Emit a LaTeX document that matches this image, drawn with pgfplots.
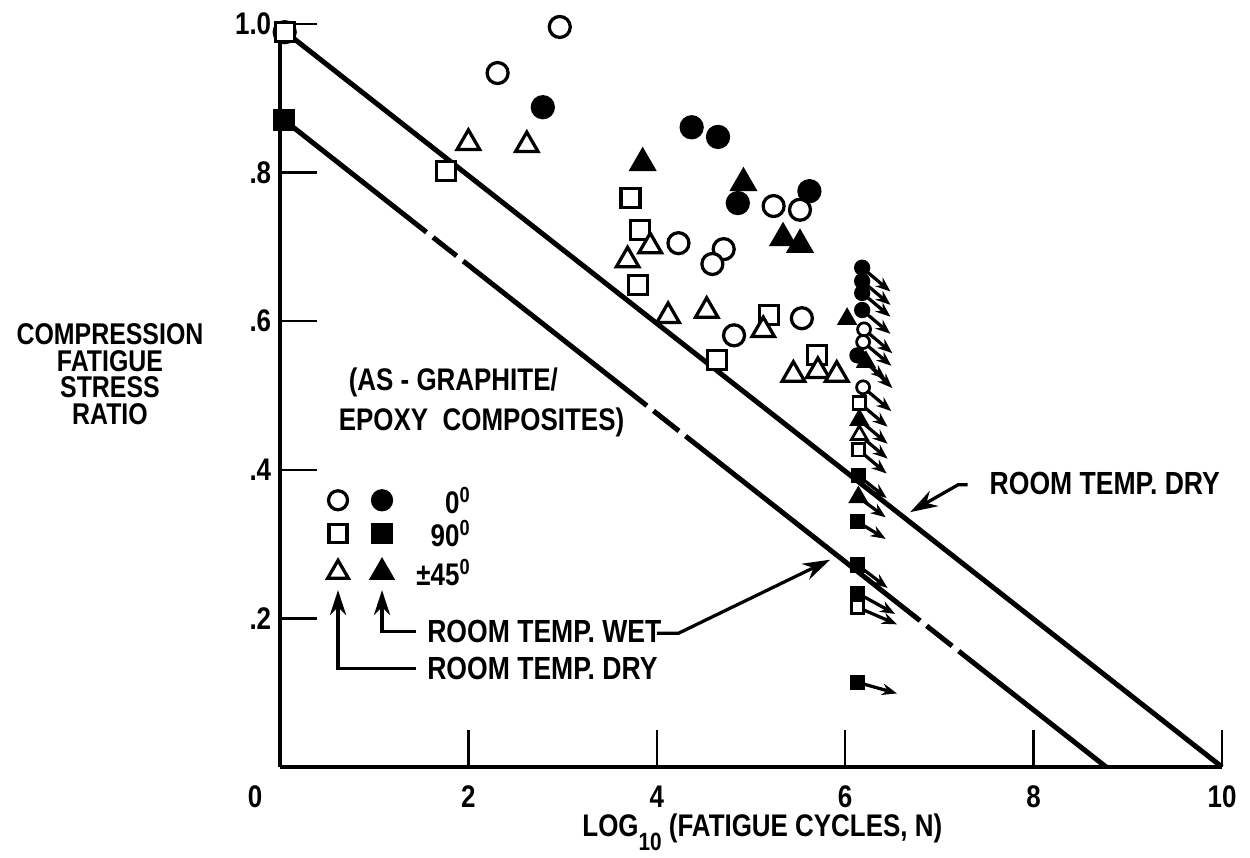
\documentclass[border=0pt]{standalone}
\usepackage{fontspec}
\setmainfont{Liberation Sans}[FakeStretch=0.83]
\usepackage{pgfplots}
\pgfplotsset{compat=1.18}
\usetikzlibrary{arrows.meta}
\begin{document}
\begin{tikzpicture}[font=\bfseries]
\path[use as bounding box] (-112pt,-36pt) rectangle (388pt,306.8pt);
\begin{axis}[
  at={(0,0)}, anchor=south west,
  scale only axis, width=376.8pt, height=297.2pt,
  xmin=0, xmax=10, ymin=0, ymax=1,
  axis lines=left, axis line style={-, line width=1.3pt},
  xtick={0,2,4,6,8,10}, xticklabels={\hspace*{-20pt}0,2,4,6,8,10},
  ytick={0.2,0.4,0.6,0.8,1.0}, yticklabels={.2,.4,.6,.8,1.0},
  tick align=inside, major tick length=15pt,
  tick style={line width=1pt, black},
  clip=false,
  /pgf/number format/assume math mode=true,
  tick label style={font=\bfseries\fontsize{12.5}{14}\selectfont},
  xticklabel style={yshift=-4pt},
]
% fitted lines
\addplot[black, line width=2pt] coordinates {(0.05,0.99) (10,0)};
\addplot[black, line width=2pt] coordinates {(0.04,0.871) (1.555,0.7198)};
\addplot[black, line width=2pt] coordinates {(1.625,0.7128) (1.875,0.6879)};
\addplot[black, line width=2pt] coordinates {(1.945,0.6809) (3.895,0.4863)};
\addplot[black, line width=2pt] coordinates {(3.965,0.4793) (4.235,0.4523)};
\addplot[black, line width=2pt] coordinates {(4.305,0.4454) (6.795,0.1969)};
\addplot[black, line width=2pt] coordinates {(6.865,0.1899) (7.135,0.1629)};
\addplot[black, line width=2pt] coordinates {(7.205,0.1559) (8.77,0)};
% runout arrows
\addplot[black, line width=1.3pt, -{Stealth[length=6pt,width=4.6pt]},
  quiver={u=\thisrow{u}, v=\thisrow{v}}] table[x=x, y=y] {
x y u v
6.18 0.672 0.30 -0.032
6.18 0.654 0.30 -0.032
6.18 0.638 0.30 -0.032
6.18 0.615 0.30 -0.032
6.20 0.589 0.30 -0.032
6.19 0.572 0.30 -0.032
6.13 0.554 0.30 -0.032
6.22 0.545 0.28 -0.035
6.19 0.511 0.30 -0.032
6.15 0.490 0.30 -0.032
6.15 0.467 0.30 -0.032
6.15 0.447 0.30 -0.032
6.14 0.427 0.30 -0.032
6.14 0.392 0.30 -0.030
6.14 0.363 0.29 -0.027
6.13 0.330 0.30 -0.023
6.13 0.272 0.32 -0.031
6.13 0.234 0.40 -0.028
6.13 0.215 0.42 -0.023
6.13 0.114 0.42 -0.015
};
% large markers: RT dry (open) and RT wet (filled)
\addplot[black, only marks, mark=*, mark size=4.2pt, mark options={fill=white, line width=1.3pt}] coordinates {
(0.05,0.989) (2.97,0.996) (2.31,0.934) (5.24,0.755) (5.52,0.750) (4.23,0.705)
(4.71,0.697) (4.59,0.677) (4.82,0.581) (5.54,0.604)};
\addplot[black, only marks, mark=*, mark size=4.2pt, mark options={fill=black, line width=1.3pt}] coordinates {
(2.79,0.888) (4.37,0.861) (4.65,0.848) (4.86,0.759) (5.62,0.775)};
\addplot[black, only marks, mark=square*, mark size=3.8pt, mark options={fill=white, line width=1.3pt}] coordinates {
(0.05,0.989) (1.76,0.802) (3.72,0.766) (3.82,0.723) (3.80,0.649) (5.19,0.608) (4.64,0.548) (5.70,0.555)};
\addplot[black, only marks, mark=square*, mark size=3.8pt, mark options={fill=black, line width=1.3pt}] coordinates {
(0.04,0.871)};
\addplot[black, only marks, mark=triangle*, mark size=5.2pt, mark options={fill=white, line width=1.3pt}] coordinates {
(2.0,0.840) (2.62,0.837) (3.69,0.682) (3.93,0.701) (4.12,0.607) (4.53,0.614)
(5.13,0.588) (5.45,0.528) (5.71,0.533) (5.91,0.528)};
\addplot[black, only marks, mark=triangle*, mark size=5.2pt, mark options={fill=black, line width=1.3pt}] coordinates {
(3.85,0.813) (4.92,0.786) (5.34,0.712) (5.52,0.703)};
% small markers in the runout column
\addplot[black, only marks, mark=*, mark size=2.7pt, mark options={fill=black, line width=1.1pt}] coordinates {
(6.18,0.672) (6.18,0.654) (6.18,0.638) (6.18,0.615) (6.13,0.554)};
\addplot[black, only marks, mark=triangle*, mark size=3.6pt, mark options={fill=black, line width=1.1pt}] coordinates {
(6.02,0.603) (6.22,0.545) (6.15,0.467) (6.14,0.363)};
\addplot[black, only marks, mark=*, mark size=2.6pt, mark options={fill=white, line width=1.1pt}] coordinates {
(6.20,0.589) (6.19,0.572) (6.19,0.511)};
\addplot[black, only marks, mark=triangle*, mark size=3.6pt, mark options={fill=white, line width=1.1pt}] coordinates {
(6.15,0.447)};
\addplot[black, only marks, mark=square*, mark size=2.5pt, mark options={fill=white, line width=1.1pt}] coordinates {
(6.15,0.490) (6.14,0.427) (6.13,0.215)};
\addplot[black, only marks, mark=square*, mark size=2.5pt, mark options={fill=black, line width=1.1pt}] coordinates {
(6.14,0.392) (6.13,0.330) (6.13,0.272) (6.13,0.234) (6.13,0.114)};
% key symbols
\addplot[black, only marks, mark=*, mark size=3.8pt, mark options={fill=white, line width=1.3pt}] coordinates {(0.616,0.359)};
\addplot[black, only marks, mark=*, mark size=3.8pt, mark options={fill=black, line width=1.3pt}] coordinates {(1.083,0.359)};
\addplot[black, only marks, mark=square*, mark size=3.6pt, mark options={fill=white, line width=1.3pt}] coordinates {(0.616,0.314)};
\addplot[black, only marks, mark=square*, mark size=3.6pt, mark options={fill=black, line width=1.3pt}] coordinates {(1.083,0.314)};
\addplot[black, only marks, mark=triangle*, mark size=4.8pt, mark options={fill=white, line width=1.3pt}] coordinates {(0.616,0.262)};
\addplot[black, only marks, mark=triangle*, mark size=4.8pt, mark options={fill=black, line width=1.3pt}] coordinates {(1.083,0.262)};
% key text
\node[anchor=east, font=\bfseries\fontsize{12.5}{14}\selectfont] at (axis cs:2.12,0.359) {0\textsuperscript{0}};
\node[anchor=east, font=\bfseries\fontsize{12.5}{14}\selectfont] at (axis cs:2.12,0.314) {90\textsuperscript{0}};
\node[anchor=east, font=\bfseries\fontsize{12.5}{14}\selectfont] at (axis cs:2.12,0.262) {\textpm45\textsuperscript{0}};
\node[anchor=west, font=\bfseries\fontsize{12.5}{14}\selectfont] at (axis cs:0.637,0.517) {(AS - GRAPHITE/};
\node[anchor=west, font=\bfseries\fontsize{12.5}{14}\selectfont] at (axis cs:0.531,0.464) {EPOXY\ \ COMPOSITES)};
% key arrows
\draw[line width=1.3pt, -{Stealth[length=10pt,width=6.5pt]}] (axis cs:1.444,0.182) -- (axis cs:1.083,0.182) -- (axis cs:1.083,0.238);
\draw[line width=1.3pt, -{Stealth[length=10pt,width=6.5pt]}] (axis cs:1.444,0.133) -- (axis cs:0.616,0.133) -- (axis cs:0.616,0.238);
\node[anchor=west, font=\bfseries\fontsize{12.8}{14}\selectfont] at (axis cs:1.47,0.182) {ROOM TEMP.\ WET};
\node[anchor=west, font=\bfseries\fontsize{12.8}{14}\selectfont] at (axis cs:1.47,0.133) {ROOM TEMP.\ DRY};
\draw[line width=1.3pt, -{Stealth[length=11pt,width=7pt]}] (axis cs:4.0,0.18) -- (axis cs:4.23,0.18) -- (axis cs:5.84,0.279);
% right-hand label
\node[anchor=west, font=\bfseries\fontsize{12.8}{14}\selectfont] at (axis cs:7.44,0.382) {ROOM TEMP.\ DRY};
\draw[line width=1.3pt, -{Stealth[length=11pt,width=7pt]}] (axis cs:7.30,0.380) -- (axis cs:7.20,0.380) -- (axis cs:6.69,0.343);
% axis titles
\node[align=center, font=\bfseries\fontsize{12}{10.6}\selectfont] at (axis cs:-1.805,0.529) {COMPRESSION\\FATIGUE\\STRESS\\RATIO};
\node[font=\bfseries\fontsize{12.5}{14}\selectfont] at (axis cs:5.12,-0.0875) {LOG\raisebox{-0.45em}{\fontsize{10}{10}\selectfont 10} (FATIGUE CYCLES, N)};
\end{axis}
\end{tikzpicture}
\end{document}
